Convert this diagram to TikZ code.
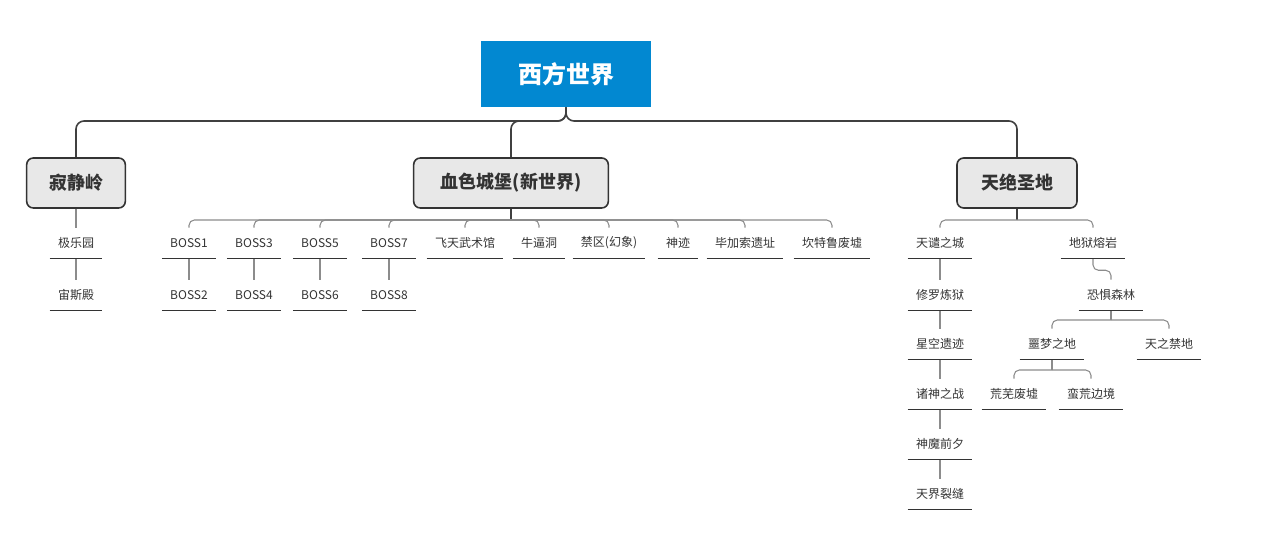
\documentclass[tikz,border=0pt]{standalone}
\usepackage{fontspec}
\setmainfont{Noto Sans CJK SC}
\usetikzlibrary{positioning,calc}

\definecolor{rootblue}{HTML}{0288D1}
\definecolor{boxgray}{HTML}{E8E8E8}
\definecolor{txtgray}{HTML}{333333}

\tikzset{
  rootbox/.style={fill=rootblue, text=white, font=\fontsize{18}{18}\selectfont\bfseries,
    minimum width=127.5pt, minimum height=49.5pt},
  mainbox/.style={fill=boxgray, draw=black!80, line width=1.2pt, rounded corners=5pt,
    text=txtgray, font=\fontsize{13.5}{13.5}\selectfont\bfseries, minimum height=37.5pt},
  leaf/.style={text=txtgray, font=\fontsize{9}{9}\selectfont, inner xsep=6pt,
    minimum height=22.5pt},
  conn/.style={draw=black!75, line width=1.2pt, rounded corners=6pt},
  subconn/.style={draw=black!45, line width=0.8pt, rounded corners=4pt},
  uline/.style={draw=black!80, line width=0.7pt}
}

\begin{document}
\begin{tikzpicture}[x=0.75pt,y=-0.75pt]
\useasboundingbox (0,0) rectangle (1288,552);

% Root
\node[rootbox] (root) at (566,74) {西方世界};
\coordinate (rj) at (566,121);

% Level one
\node[mainbox, minimum width=74pt] (jjl) at (76,183) {寂静岭};
\node[mainbox, minimum width=146pt] (xscb) at (511,183) {血色城堡(新世界)};
\node[mainbox, minimum width=90pt] (tjsd) at (1017,183) {天绝圣地};

\foreach \c in {jjl,xscb,tjsd}
  \draw[conn] (root.south) -- (rj) -| (\c.north);

% Silent Hill
\node[leaf] (jly) at (76,243) {极乐园};
\node[leaf] (zsd) at (76,295) {宙斯殿};
\draw[subconn] (jjl.south) -- (jly.north);
\draw[subconn] (jly.south) -- (zsd.north);

% Blood castle
\coordinate (xj) at (511,220);
\node[leaf] (b1) at (189,243) {BOSS1};
\node[leaf] (b3) at (254,243) {BOSS3};
\node[leaf] (b5) at (320,243) {BOSS5};
\node[leaf] (b7) at (389,243) {BOSS7};
\node[leaf] (ftw) at (465,243) {飞天武术馆};
\node[leaf] (nbd) at (539,243) {牛逼洞};
\node[leaf] (jq) at (609,243) {禁区(幻象)};
\node[leaf] (sj) at (678,243) {神迹};
\node[leaf] (bjs) at (745,243) {毕加索遗址};
\node[leaf] (ktl) at (832,243) {坎特鲁废墟};
\node[leaf] (b2) at (189,295) {BOSS2};
\node[leaf] (b4) at (254,295) {BOSS4};
\node[leaf] (b6) at (320,295) {BOSS6};
\node[leaf] (b8) at (389,295) {BOSS8};

\draw[conn, line width=1pt] (xscb.south) -- (xj);
\foreach \c in {b1,b3,b5,b7,ftw,nbd,jq,sj,bjs,ktl}
  \draw[subconn] (xj) -| (\c.north);
\foreach \a/\b in {b1/b2,b3/b4,b5/b6,b7/b8}
  \draw[subconn] (\a.south) -- (\b.north);

% Sky sanctuary
\coordinate (tj) at (1017,220);
\node[leaf] (tqzc) at (940,243) {天谴之城};
\node[leaf] (xllk) at (940,295) {修罗炼狱};
\node[leaf] (xkyj) at (940,344) {星空遗迹};
\node[leaf] (zszz) at (940,394) {诸神之战};
\node[leaf] (smqx) at (940,444) {神魔前夕};
\node[leaf] (tjlf) at (940,494) {天界裂缝};
\node[leaf] (dyry) at (1093,243) {地狱熔岩};
\node[leaf] (kjsl) at (1111,295) {恐惧森林};
\node[leaf] (emzd) at (1052,344) {噩梦之地};
\node[leaf] (tzjd) at (1169,344) {天之禁地};
\node[leaf] (hwfx) at (1014,394) {荒芜废墟};
\node[leaf] (mhbj) at (1091,394) {蛮荒边境};

\draw[conn, line width=1pt] (tjsd.south) -- (tj);
\foreach \c in {tqzc,dyry}
  \draw[subconn] (tj) -| (\c.north);
\foreach \a/\b in {tqzc/xllk,xllk/xkyj,xkyj/zszz,zszz/smqx,smqx/tjlf}
  \draw[subconn] (\a.south) -- (\b.north);
\draw[subconn] (dyry.south) -- ++(0,12) -| (kjsl.north);
\coordinate (kj) at (1111,320);
\draw[subconn] (kjsl.south) -- (kj);
\foreach \c in {emzd,tzjd}
  \draw[subconn] (kj) -| (\c.north);
\coordinate (ej) at (1052,370);
\draw[subconn] (emzd.south) -- (ej);
\foreach \c in {hwfx,mhbj}
  \draw[subconn] (ej) -| (\c.north);

% Underlines
\foreach \n in {jly,zsd,b1,b2,b3,b4,b5,b6,b7,b8,ftw,nbd,jq,sj,bjs,ktl,
  tqzc,xllk,xkyj,zszz,smqx,tjlf,dyry,kjsl,emzd,tzjd,hwfx,mhbj}
  \draw[uline] (\n.south west) -- (\n.south east);
\end{tikzpicture}
\end{document}
